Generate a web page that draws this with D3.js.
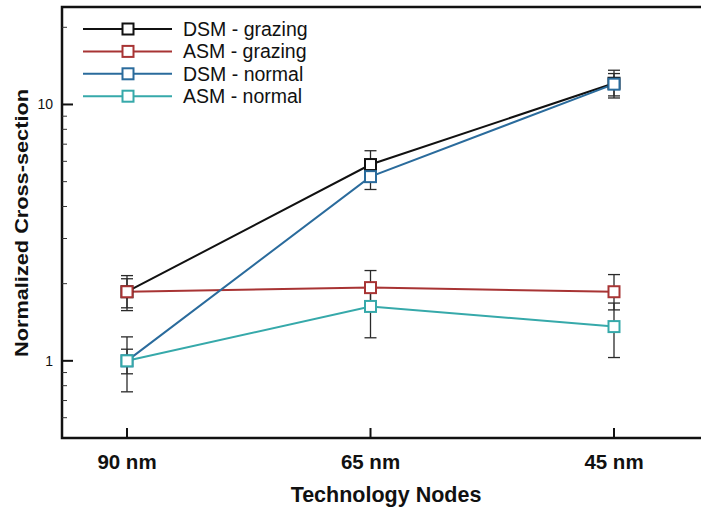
<!DOCTYPE html>
<html>
<head>
<meta charset="utf-8">
<script src="https://cdnjs.cloudflare.com/ajax/libs/d3/7.8.5/d3.min.js"></script>
<style>
  body { margin: 0; background: #fff; }
  svg { display: block; font-family: "Liberation Sans", Arial, Helvetica, sans-serif; }
</style>
</head>
<body>
<div id="chart"></div>
<script>
// categories on the x axis
const nodes = ["90 nm", "65 nm", "45 nm"];

// series names and colours
const seriesNames = ["DSM - grazing", "ASM - grazing", "DSM - normal", "ASM - normal"];
const seriesColors = ["#111111", "#a83434", "#2a6b9c", "#36a9aa"];

// values (normalized cross-section)
const dsmGrazing = [1.86, 5.83, 12.1];
const asmGrazing = [1.86, 1.93, 1.86];
const dsmNormal  = [1.0, 5.23, 12.0];
const asmNormal  = [1.0, 1.63, 1.36];

// error bar ends [low, high]
const dsmGrazingErr = [[1.57, 2.15], [5.23, 6.6], [10.6, 13.2]];
const asmGrazingErr = [[1.61, 2.09], [1.63, 2.25], [1.58, 2.17]];
const dsmNormalErr  = [[0.89, 1.11], [4.66, 5.7], [10.8, 13.6]];
const asmNormalErr  = [[0.757, 1.24], [1.23, 1.93], [1.03, 1.68]];

const majorTicks = [1, 10];
const minorTicks = [0.6, 0.7, 0.8, 0.9, 2, 3, 4, 5, 6, 7, 8, 9, 20];

const allValues = [dsmGrazing, asmGrazing, dsmNormal, asmNormal];
const allErrors = [dsmGrazingErr, asmGrazingErr, dsmNormalErr, asmNormalErr];

const width = 701, height = 508;
const frame = { left: 62, top: 7, right: 706, bottom: 438 };

const svg = d3.select("#chart").append("svg")
    .attr("width", width)
    .attr("height", height);

const x = d3.scalePoint().domain(nodes).range([127, 614]);
const y = d3.scaleLog().domain([0.5, 24]).range([frame.bottom, frame.top]);

// frame (right side runs off the picture)
svg.append("rect")
    .attr("x", frame.left)
    .attr("y", frame.top)
    .attr("width", frame.right - frame.left)
    .attr("height", frame.bottom - frame.top)
    .attr("fill", "none")
    .attr("stroke", "#111")
    .attr("stroke-width", 2.5);

// y ticks point inward
svg.selectAll(".ymajor")
    .data(majorTicks)
    .enter().append("line")
    .attr("x1", frame.left).attr("x2", frame.left + 11)
    .attr("y1", d => y(d)).attr("y2", d => y(d))
    .attr("stroke", "#111").attr("stroke-width", 2);

svg.selectAll(".yminor")
    .data(minorTicks)
    .enter().append("line")
    .attr("x1", frame.left).attr("x2", frame.left + 5)
    .attr("y1", d => y(d)).attr("y2", d => y(d))
    .attr("stroke", "#333").attr("stroke-width", 1);

svg.selectAll(".ylabel")
    .data(majorTicks)
    .enter().append("text")
    .attr("x", 53)
    .attr("y", d => y(d) + 5)
    .attr("text-anchor", "end")
    .attr("font-size", "14px")
    .attr("fill", "#111")
    .text(d => d);

// x ticks
svg.selectAll(".xtick")
    .data(nodes)
    .enter().append("line")
    .attr("x1", d => x(d)).attr("x2", d => x(d))
    .attr("y1", frame.bottom).attr("y2", frame.bottom - 10)
    .attr("stroke", "#111").attr("stroke-width", 2);

svg.selectAll(".xlabel")
    .data(nodes)
    .enter().append("text")
    .attr("x", d => x(d))
    .attr("y", 469)
    .attr("text-anchor", "middle")
    .attr("font-size", "20.5px")
    .attr("font-weight", "bold")
    .attr("fill", "#111")
    .text(d => d);

// axis titles
svg.append("text")
    .attr("x", 386)
    .attr("y", 502)
    .attr("text-anchor", "middle")
    .attr("font-size", "21.5px")
    .attr("font-weight", "bold")
    .attr("fill", "#111")
    .text("Technology Nodes");

svg.append("text")
    .attr("transform", "translate(28,223) rotate(-90)")
    .attr("text-anchor", "middle")
    .attr("font-size", "18px")
    .attr("font-weight", "bold")
    .attr("fill", "#111")
    .attr("textLength", 268)
    .attr("lengthAdjust", "spacingAndGlyphs")
    .text("Normalized Cross-section");

// error bars first so the markers sit on top
allErrors.forEach(errs => {
    const g = svg.append("g").attr("stroke", "#2a2a2a").attr("stroke-width", 1.3);
    errs.forEach((e, i) => {
        const cx = x(nodes[i]);
        g.append("line").attr("x1", cx).attr("x2", cx).attr("y1", y(e[0])).attr("y2", y(e[1]));
        g.append("line").attr("x1", cx - 6).attr("x2", cx + 6).attr("y1", y(e[0])).attr("y2", y(e[0]));
        g.append("line").attr("x1", cx - 6).attr("x2", cx + 6).attr("y1", y(e[1])).attr("y2", y(e[1]));
    });
});

const line = d3.line()
    .x((d, i) => x(nodes[i]))
    .y(d => y(d));

allValues.forEach((vals, s) => {
    svg.append("path")
        .datum(vals)
        .attr("d", line)
        .attr("fill", "none")
        .attr("stroke", seriesColors[s])
        .attr("stroke-width", 2);
});

const msize = 11;
allValues.forEach((vals, s) => {
    svg.selectAll(null)
        .data(vals)
        .enter().append("rect")
        .attr("x", (d, i) => x(nodes[i]) - msize / 2)
        .attr("y", d => y(d) - msize / 2)
        .attr("width", msize)
        .attr("height", msize)
        .attr("fill", "#fff")
        .attr("stroke", seriesColors[s])
        .attr("stroke-width", 2);
});

// legend
const legend = svg.append("g");
seriesNames.forEach((name, s) => {
    const ly = 29 + s * 22.4;
    legend.append("line")
        .attr("x1", 83).attr("x2", 172)
        .attr("y1", ly).attr("y2", ly)
        .attr("stroke", seriesColors[s]).attr("stroke-width", 2);
    legend.append("rect")
        .attr("x", 128 - msize / 2).attr("y", ly - msize / 2)
        .attr("width", msize).attr("height", msize)
        .attr("fill", "#fff")
        .attr("stroke", seriesColors[s]).attr("stroke-width", 2);
    legend.append("text")
        .attr("x", 183)
        .attr("y", ly + 7)
        .attr("font-size", "19.5px")
        .attr("fill", "#111")
        .text(name);
});
</script>
</body>
</html>
